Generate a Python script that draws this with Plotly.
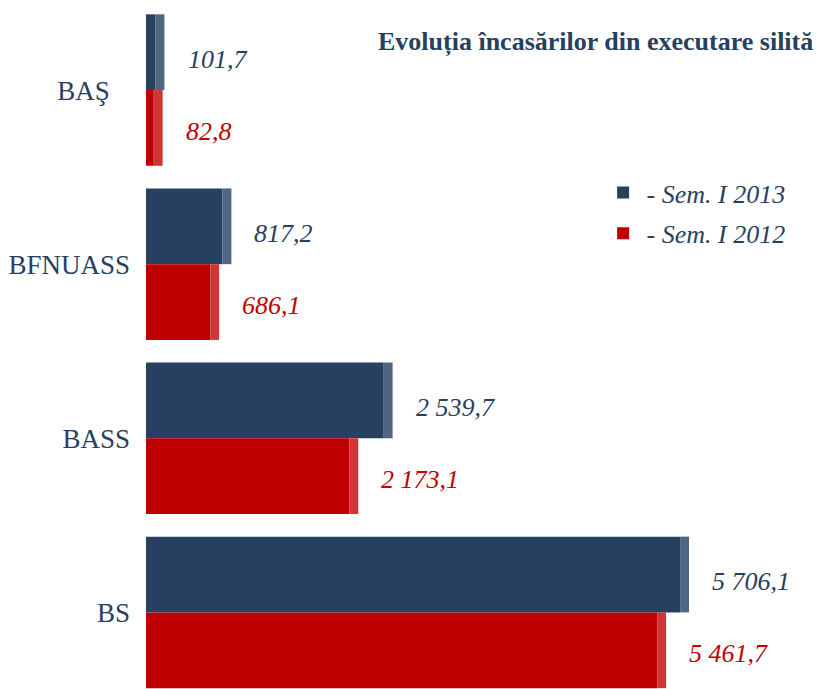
import plotly.graph_objects as go

categories = ["BAŞ", "BFNUASS", "BASS", "BS"]
tick_labels = ["BAŞ\u00a0\u00a0\u00a0", "BFNUASS", "BASS", "BS"]
sem_2013 = [101.7, 817.2, 2539.7, 5706.1]
sem_2012 = [82.8, 686.1, 2173.1, 5461.7]
labels_2013 = ["101,7", "817,2", "2 539,7", "5 706,1"]
labels_2012 = ["82,8", "686,1", "2 173,1", "5 461,7"]
series_names = ["- Sem. I 2013", "- Sem. I 2012"]
title_text = "Evoluția încasărilor din executare silită"

BLUE = "#27405f"
BLUE_SIDE = "#4f6581"
RED = "#c00000"
RED_SIDE = "#d03434"
FONT = "Liberation Serif"
SIDE_DEPTH = 95  # visual depth of the 3D side face, in axis units

fig = go.Figure()
fig.add_trace(go.Bar(
    y=categories, x=sem_2013, orientation="h", name=series_names[0],
    marker=dict(color=BLUE, line=dict(width=0)),
    legendgroup="a", offsetgroup="a",
))
fig.add_trace(go.Bar(
    y=categories, x=[SIDE_DEPTH] * len(categories), base=sem_2013, orientation="h",
    marker=dict(color=BLUE_SIDE, line=dict(width=0)),
    offsetgroup="a", showlegend=False, hoverinfo="skip",
))
fig.add_trace(go.Bar(
    y=categories, x=sem_2012, orientation="h", name=series_names[1],
    marker=dict(color=RED, line=dict(width=0)),
    legendgroup="b", offsetgroup="b",
))
fig.add_trace(go.Bar(
    y=categories, x=[SIDE_DEPTH] * len(categories), base=sem_2012, orientation="h",
    marker=dict(color=RED_SIDE, line=dict(width=0)),
    offsetgroup="b", showlegend=False, hoverinfo="skip",
))

annotations = []
for cat, v, lab in zip(categories, sem_2013, labels_2013):
    annotations.append(dict(
        x=v, y=cat, xref="x", yref="y", text=lab, showarrow=False,
        xanchor="left", xshift=30, yshift=31,
        font=dict(family=FONT, size=26, color=BLUE, style="italic"),
    ))
for cat, v, lab in zip(categories, sem_2012, labels_2012):
    annotations.append(dict(
        x=v, y=cat, xref="x", yref="y", text=lab, showarrow=False,
        xanchor="left", xshift=30, yshift=-41,
        font=dict(family=FONT, size=26, color=RED, style="italic"),
    ))
annotations.append(dict(
    x=1, y=1, xref="paper", yref="paper", text="<b>" + title_text + "</b>",
    showarrow=False, xanchor="right", yanchor="middle", xshift=-4, yshift=-39,
    font=dict(family=FONT, size=26, color=BLUE),
))

fig.update_layout(
    width=819, height=689,
    margin=dict(l=146, r=0, t=3, b=0, autoexpand=False),
    paper_bgcolor="white", plot_bgcolor="white",
    barmode="group", bargap=0.13, bargroupgap=0,
    showlegend=True,
    legend=dict(
        x=0.674, y=0.758, xanchor="left", yanchor="top",
        font=dict(family=FONT, size=26, color=BLUE, style="italic"),
        tracegroupgap=4, itemwidth=37, bgcolor="rgba(0,0,0,0)",
    ),
    xaxis=dict(range=[0, 7190], visible=False, fixedrange=True, automargin=False),
    yaxis=dict(
        categoryorder="array", categoryarray=categories,
        tickmode="array", tickvals=categories, ticktext=tick_labels,
        range=[3.44, -0.5], automargin=False,
        showgrid=False, zeroline=False, showline=False, ticks="",
        ticklabelstandoff=15,
        tickfont=dict(family=FONT, size=27, color=BLUE),
    ),
    annotations=annotations,
)

fig.write_html(
    "out.html",
    config={"displayModeBar": False},
    post_script="document.body.style.margin='0';document.body.style.overflow='hidden';",
)
